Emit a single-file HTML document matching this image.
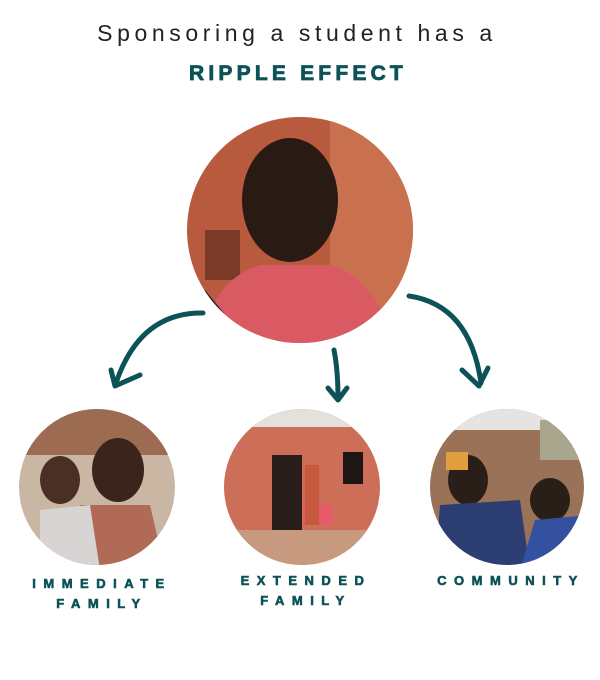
<!DOCTYPE html>
<html><head><meta charset="utf-8"><style>
html,body{margin:0;padding:0;background:#fff;}
svg{display:block}
</style></head><body>
<svg width="600" height="680" viewBox="0 0 600 680" xmlns="http://www.w3.org/2000/svg">
<defs>
<clipPath id="c0"><circle cx="300" cy="230" r="113"/></clipPath>
<clipPath id="c1"><ellipse cx="97" cy="487" rx="78" ry="78"/></clipPath>
<clipPath id="c2"><ellipse cx="302" cy="487" rx="78" ry="78"/></clipPath>
<clipPath id="c3"><ellipse cx="507" cy="487" rx="77" ry="78"/></clipPath>
</defs>
<text x="297" y="41" text-anchor="middle" font-family="Liberation Sans, sans-serif" font-size="23" letter-spacing="4.6" fill="#222">Sponsoring a student has a</text>
<text x="298" y="80" text-anchor="middle" font-family="Liberation Sans, sans-serif" font-size="21" font-weight="bold" letter-spacing="4.2" fill="#0d5257" stroke="#0d5257" stroke-width="0.8">RIPPLE EFFECT</text>

<g clip-path="url(#c0)">
<rect x="180" y="110" width="240" height="240" fill="#b85a3e"/>
<rect x="330" y="110" width="90" height="240" fill="#c9704f"/>
<rect x="205" y="230" width="35" height="50" fill="#7a3a28"/>
<ellipse cx="290" cy="200" rx="48" ry="62" fill="#2a1a14"/>
<path d="M200 350 Q210 280 260 265 L330 265 Q380 280 395 350 Z" fill="#d95a63"/>
<path d="M205 290 L250 345 L235 350 L195 300 Z" fill="#2a2220"/>
</g>

<g clip-path="url(#c1)">
<rect x="15" y="405" width="165" height="165" fill="#c9b7a4"/>
<rect x="15" y="405" width="165" height="50" fill="#9c6b52"/>
<ellipse cx="118" cy="470" rx="26" ry="32" fill="#3a241c"/>
<path d="M70 570 L80 505 L150 505 L165 570 Z" fill="#b06a55"/>
<ellipse cx="60" cy="480" rx="20" ry="24" fill="#4a2f24"/>
<path d="M40 570 L40 510 L90 505 L100 570 Z" fill="#d8d4d4"/>
</g>

<g clip-path="url(#c2)">
<rect x="220" y="405" width="165" height="165" fill="#cc6e58"/>
<rect x="220" y="405" width="165" height="22" fill="#e4e0dc"/>
<rect x="220" y="530" width="165" height="40" fill="#c79a80"/>
<rect x="272" y="455" width="30" height="75" fill="#2a1e1c"/>
<rect x="343" y="452" width="20" height="32" fill="#1e1614"/>
<rect x="303" y="505" width="30" height="20" fill="#e85a6a"/>
<rect x="305" y="465" width="14" height="60" fill="#c75a3e"/>
</g>

<g clip-path="url(#c3)">
<rect x="425" y="405" width="165" height="165" fill="#9a7257"/>
<rect x="425" y="405" width="165" height="25" fill="#e6e4e2"/>
<rect x="540" y="420" width="50" height="40" fill="#a8a68c"/>
<ellipse cx="468" cy="480" rx="20" ry="25" fill="#2a1e18"/>
<path d="M435 570 L440 505 L520 500 L530 570 Z" fill="#2c3e72"/>
<rect x="446" y="452" width="22" height="18" fill="#e0a040"/>
<ellipse cx="550" cy="500" rx="20" ry="22" fill="#2a1e18"/>
<path d="M520 570 L535 520 L590 515 L590 570 Z" fill="#3450a0"/>
</g>

<g fill="none" stroke="#0d5257" stroke-width="5" stroke-linecap="round" stroke-linejoin="round">
<path d="M203 313 Q140 312 116 383"/>
<path d="M111 370 L115 386 L140 375"/>
<path d="M334 350 Q338 370 338 398"/>
<path d="M328 388 L338 400 L347 388"/>
<path d="M409 296 Q470 305 481 383"/>
<path d="M462 370 L479 386 L488 368"/>
</g>

<g font-family="Liberation Sans, sans-serif" font-size="13" font-weight="bold" fill="#0d5257" stroke="#0d5257" stroke-width="0.6" text-anchor="middle" letter-spacing="7.5">
<text x="102" y="588">IMMEDIATE</text>
<text x="102" y="608">FAMILY</text>
<text x="306" y="585">EXTENDED</text>
<text x="306" y="605">FAMILY</text>
<text x="511" y="585">COMMUNITY</text>
</g>
</svg>
</body></html>
